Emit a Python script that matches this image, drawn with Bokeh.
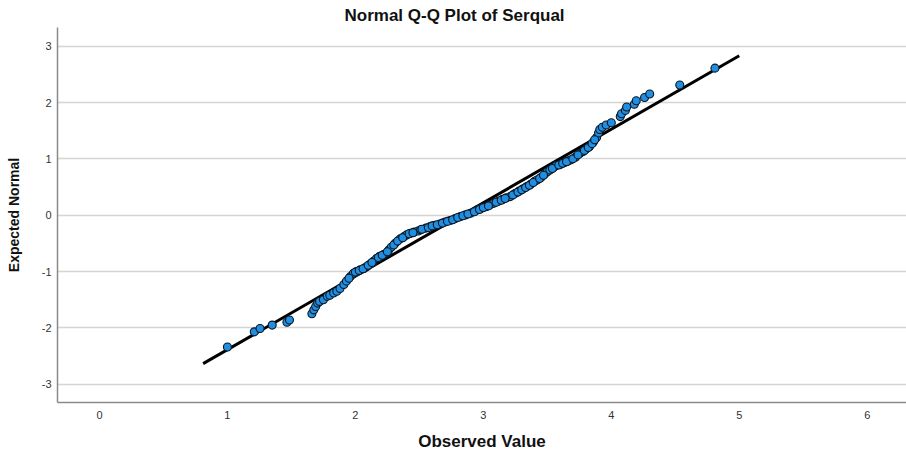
from bokeh.plotting import figure
from bokeh.models import Range1d, FixedTicker
from bokeh.embed import file_html
from bokeh.resources import INLINE

# Serqual scores (observed) and their expected normal quantiles
observed = [
    1.00, 1.21, 1.255, 1.35, 1.465, 1.485, 1.66, 1.675, 1.69, 1.705,
    1.72, 1.75, 1.78, 1.80, 1.83, 1.855, 1.88, 1.91, 1.93, 1.96,
    1.985, 2.01, 2.04, 2.07, 2.09, 2.12, 2.14, 2.165, 2.19, 2.22,
    2.245, 2.26, 2.28, 2.31, 2.35, 2.38, 2.40, 2.43, 2.46, 2.49,
    2.51, 2.55, 2.585, 2.62, 2.66, 2.70, 2.74, 2.78, 2.82, 2.86,
    2.90, 2.95, 2.98, 3.02, 3.05, 3.08, 3.12, 3.15, 3.18, 3.21,
    3.25, 3.28, 3.31, 3.34, 3.37, 3.40, 3.42, 3.45, 3.48, 3.50,
    3.52, 3.55, 3.57, 3.60, 3.63, 3.66, 3.68, 3.72, 3.755, 3.78,
    3.80, 3.83, 3.86, 3.885, 3.90, 3.91, 3.93, 3.96, 4.00, 4.07,
    4.08, 4.11, 4.12, 4.18, 4.195, 4.26, 4.30, 4.535, 4.81,
    1.95, 2.00, 2.03, 2.06, 2.10, 2.13, 2.18, 2.21, 2.25, 2.30,
    2.33, 2.37, 2.42, 2.45, 2.52, 2.57, 2.60, 2.64, 2.68, 2.72,
    2.76, 2.80, 2.84, 2.88, 2.93, 2.97, 3.00, 3.04, 3.10, 3.14,
    3.17, 3.23, 3.27, 3.30, 3.33, 3.36, 3.39, 3.44, 3.47, 3.54,
    3.59, 3.62, 3.65, 3.70, 3.74, 3.79, 3.82, 3.85, 3.87,
]
expected = [
    -2.34, -2.07, -2.01, -1.95, -1.90, -1.86, -1.75, -1.68, -1.62, -1.56,
    -1.53, -1.50, -1.44, -1.42, -1.38, -1.35, -1.30, -1.23, -1.17, -1.09,
    -1.03, -1.00, -0.97, -0.94, -0.91, -0.86, -0.82, -0.77, -0.73, -0.70,
    -0.67, -0.62, -0.57, -0.50, -0.42, -0.38, -0.35, -0.32, -0.30, -0.28,
    -0.26, -0.23, -0.20, -0.18, -0.155, -0.12, -0.095, -0.06, -0.025, 0.005,
    0.035, 0.09, 0.12, 0.15, 0.18, 0.21, 0.25, 0.28, 0.31, 0.33,
    0.39, 0.43, 0.47, 0.51, 0.55, 0.60, 0.625, 0.67, 0.73, 0.77,
    0.80, 0.85, 0.88, 0.90, 0.93, 0.96, 0.98, 1.03, 1.10, 1.13,
    1.17, 1.22, 1.30, 1.38, 1.46, 1.52, 1.56, 1.60, 1.64, 1.75,
    1.80, 1.86, 1.92, 1.97, 2.03, 2.09, 2.15, 2.31, 2.61,
    -1.12, -1.01, -0.98, -0.95, -0.89, -0.84, -0.75, -0.71, -0.65, -0.53,
    -0.46, -0.40, -0.33, -0.31, -0.25, -0.22, -0.19, -0.17, -0.14, -0.11,
    -0.08, -0.04, -0.01, 0.02, 0.06, 0.10, 0.135, 0.165, 0.23, 0.265,
    0.295, 0.36, 0.41, 0.45, 0.49, 0.53, 0.58, 0.65, 0.71, 0.83,
    0.89, 0.92, 0.95, 1.00, 1.07, 1.15, 1.20, 1.27, 1.34,
]

# reference normal line: mean and standard deviation of the scores
mean_score = 2.83
sd_score = 0.767
line_x = [0.81, 5.0]
line_y = [(v - mean_score) / sd_score for v in line_x]

x_ticks = [0, 1, 2, 3, 4, 5, 6]
y_ticks = [-3, -2, -1, 0, 1, 2, 3]

p = figure(
    width=906, height=453,
    output_backend="svg", toolbar_location=None,
    x_range=Range1d(-0.328, 6.307), y_range=Range1d(-3.324, 3.331),
    min_border_left=57, min_border_right=0, min_border_top=27, min_border_bottom=50,
    title="Normal Q-Q Plot of Serqual",
)
p.outline_line_color = None
p.background_fill_color = "white"
p.border_fill_color = "white"

p.title.align = "left"
p.title.offset = 287
p.title.text_font = "Liberation Sans"
p.title.text_font_style = "bold"
p.title.text_font_size = "17px"
p.title.text_color = "#111111"
p.title.standoff = 6

for ax in (p.xaxis[0], p.yaxis[0]):
    ax.axis_line_color = "#8a8a8a"
    ax.axis_line_width = 1.5
    ax.major_tick_line_color = None
    ax.minor_tick_line_color = None
    ax.major_tick_out = 0
    ax.major_tick_in = 0
    ax.minor_tick_out = 0
    ax.minor_tick_in = 0
    ax.major_label_text_font = "Liberation Sans"
    ax.major_label_text_font_size = "11px"
    ax.major_label_text_color = "#333333"
    ax.axis_label_text_font = "Liberation Sans"
    ax.axis_label_text_font_style = "bold"
    ax.axis_label_text_color = "#111111"

p.xaxis.ticker = FixedTicker(ticks=x_ticks)
p.yaxis.ticker = FixedTicker(ticks=y_ticks)
p.xaxis.major_label_overrides = {t: str(t) for t in x_ticks}
p.yaxis.major_label_overrides = {t: str(t) for t in y_ticks}
p.xaxis.axis_label = "Observed Value"
p.xaxis.axis_label_text_font_size = "17px"
p.xaxis.major_label_standoff = 8
p.xaxis.axis_label_standoff = 10
p.yaxis.axis_label = "Expected Normal"
p.yaxis.axis_label_text_font_size = "14px"
p.yaxis.major_label_standoff = 6
p.yaxis.axis_label_standoff = 17

p.xgrid.grid_line_color = None
p.ygrid.grid_line_color = "#d4d4d4"
p.ygrid.grid_line_width = 1.5

p.line(line_x, line_y, line_color="black", line_width=3)
p.scatter(observed, expected, size=8, fill_color="#1f8fe3",
          line_color="#0d1620", line_width=1.1)

open("out.html", "w").write(file_html(p, INLINE))
